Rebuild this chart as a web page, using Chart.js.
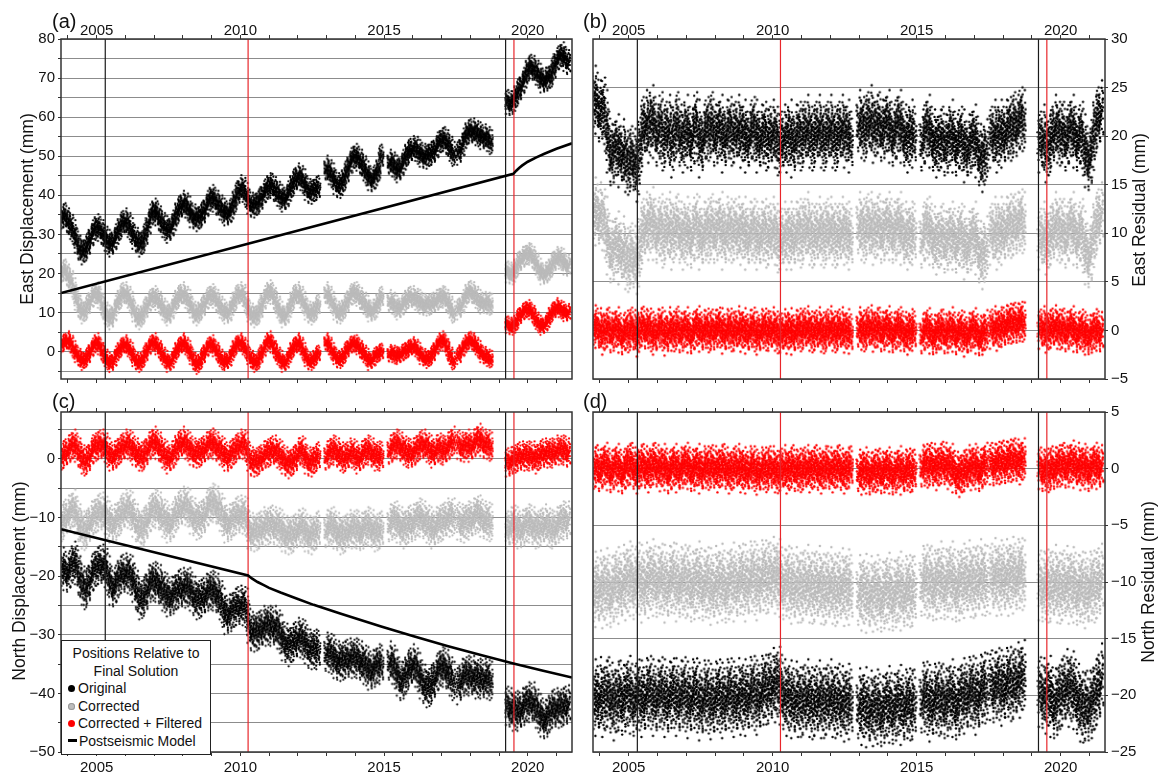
<!DOCTYPE html>
<html>
<head>
<meta charset="utf-8">
<script src="https://cdn.jsdelivr.net/npm/chart.js@4.4.1/dist/chart.umd.min.js"></script>
<style>
  body { margin: 0; background: #fff; font-family: "Liberation Sans", Arial, sans-serif; color: #111; }
  #wrap { position: relative; width: 1158px; height: 772px; overflow: hidden; }
  canvas { position: absolute; }
  .plab { position: absolute; font-size: 20px; line-height: 20px; }
  .atitle { position: absolute; font-size: 17.5px; white-space: nowrap; transform: translate(-50%, -50%) rotate(-90deg); }
  #legend { position: absolute; left: 61px; top: 640px; width: 148px; height: 109px; border: 1.5px solid #222; background: #fff; font-size: 14px; line-height: 17.6px; padding-top: 4px; box-sizing: content-box; }
  #legend .ttl { text-align: center; }
  #legend .it { padding-left: 6px; white-space: nowrap; }
  #legend .dot { display: inline-block; width: 7px; height: 7px; border-radius: 50%; margin-right: 3px; vertical-align: 1px; }
  #legend .bar { display: inline-block; width: 9px; height: 3px; background: #000; margin-right: 2px; vertical-align: 4px; }
</style>
</head>
<body>
<div id="wrap">
  <canvas id="pa" width="580" height="386" style="left:0;top:0"></canvas>
  <canvas id="pb" width="578" height="386" style="left:580px;top:0"></canvas>
  <canvas id="pc" width="580" height="386" style="left:0;top:386px"></canvas>
  <canvas id="pd" width="578" height="386" style="left:580px;top:386px"></canvas>

  <div class="plab" style="left:52px;top:11px">(a)</div>
  <div class="plab" style="left:583px;top:11px">(b)</div>
  <div class="plab" style="left:52px;top:391px">(c)</div>
  <div class="plab" style="left:583px;top:391px">(d)</div>

  <div class="atitle" style="left:27px;top:209px">East Displacement (mm)</div>
  <div class="atitle" style="left:19px;top:581px">North Displacement (mm)</div>
  <div class="atitle" style="left:1139px;top:210px">East Residual (mm)</div>
  <div class="atitle" style="left:1148px;top:582px">North Residual (mm)</div>

  <div id="legend">
    <div class="ttl">Positions Relative to</div>
    <div class="ttl">Final Solution</div>
    <div class="it"><span class="dot" style="background:#000"></span>Original</div>
    <div class="it"><span class="dot" style="background:#bdbdbd;box-shadow:0 0 0 1px #999 inset"></span>Corrected</div>
    <div class="it"><span class="dot" style="background:#f00"></span>Corrected + Filtered</div>
    <div class="it"><span class="bar"></span>Postseismic Model</div>
  </div>
</div>

<script>
// sampling of the position series: one value every 0.1 yr from 2003.8, null = no data
const t0 = 2003.8;
const dt = 0.1;

// (a) east displacement, mm
const eastOrig = [
  34.5, 35.0,
  33.5, 32.0, 30.5, 28.5, 26.5, 25.5, 26.0, 27.5, 29.5, 31.0,
  32.0, 31.5, 30.5, 29.0, 28.0, 27.5, 28.5, 30.0, 31.5, 33.0,
  33.5, 32.5, 31.0, 29.5, 28.5, 27.5, 28.0, 30.0, 32.5, 35.0,
  36.0, 35.5, 34.0, 32.5, 31.5, 31.0, 32.0, 33.5, 35.5, 37.0,
  38.0, 37.5, 36.5, 35.0, 34.5, 34.0, 34.5, 35.5, 37.0, 38.5,
  39.5, 39.0, 38.0, 37.0, 36.0, 35.5, 35.5, 36.5, 38.5, 40.5,
  42.0, 41.5, 40.0, 38.5, 37.5, 37.5, 38.0, 39.0, 40.5, 41.5,
  42.5, 42.5, 41.5, 40.5, 39.5, 39.0, 39.5, 41.0, 42.5, 44.0,
  45.0, 44.5, 43.5, 42.0, 41.0, 41.0, 41.5, 42.0, null, null,
  47.0, 46.0, 45.0, 43.5, 42.5, 42.5, 44.0, 46.0, 48.0, 49.5,
  50.0, 49.5, 48.5, 47.0, 45.5, 44.5, 44.0, 45.0, 46.5, 50.0,
  null, null, 48.5, 48.0, 47.0, 46.5, 47.5, 49.0, 50.5, 51.5,
  52.0, 52.0, 51.0, 50.5, 50.0, 50.0, 50.5, 51.0, 52.0, 53.5,
  54.0, 54.5, 53.5, 52.0, 50.5, null, 51.0, 52.5, 54.5, 56.0,
  56.5, 56.5, 56.0, 55.5, 55.0, 55.0, 54.5, 53.5, null, null,
  null, null, null, 64.0, 63.5, 64.0, 65.5, 67.0, 68.5, 70.0,
  72.0, 73.0, 72.5, 71.5, 70.5, 69.5, 69.5, 70.0, 70.5, 72.5,
  74.5, 75.5, 76.0, 75.0, 74.0
];
const eastCorr = [
  20.5, 21.0,
  19.5, 18.0, 16.0, 13.5, 11.5, 10.0, 10.5, 12.0, 13.5, 14.5,
  15.0, 14.0, 12.0, 10.0, 9.0, 8.5, 10.0, 12.0, 13.5, 15.0,
  15.0, 14.0, 12.5, 10.5, 9.0, 8.5, 9.5, 11.0, 12.5, 13.5,
  14.0, 13.5, 12.5, 11.0, 10.0, 9.5, 10.5, 12.0, 13.5, 14.5,
  15.0, 14.0, 13.0, 11.5, 10.0, 9.5, 10.5, 11.5, 13.0, 14.0,
  14.5, 14.0, 13.0, 11.5, 10.5, 10.0, 10.0, 11.5, 13.0, 14.5,
  15.0, 14.5, 12.5, 10.5, 9.5, 9.0, 9.5, 11.0, 13.0, 14.5,
  15.5, 15.0, 13.5, 11.5, 10.0, 9.0, 9.5, 11.0, 13.0, 14.5,
  15.0, 14.0, 12.5, 11.0, 10.0, 9.7, 10.5, 12.0, null, null,
  15.0, 14.0, 12.5, 11.0, 10.0, 10.0, 11.0, 12.5, 14.0, 15.0,
  15.0, 14.5, 13.5, 12.5, 11.5, 10.5, 10.5, 11.0, 12.5, 14.0,
  null, null, 13.0, 12.5, 11.5, 11.0, 11.5, 12.5, 13.5, 14.0,
  14.0, 13.5, 13.0, 12.5, 12.0, 12.0, 12.0, 12.5, 13.0, 13.5,
  14.0, 14.0, 13.0, 11.5, 10.0, null, 11.0, 12.0, 13.5, 15.0,
  15.5, 15.0, 14.0, 13.0, 12.5, 12.5, 12.5, 12.0, null, null,
  null, null, null, 20.5, 20.0, 20.0, 21.5, 23.0, 24.0, 24.5,
  25.0, 25.0, 24.0, 22.5, 21.0, 20.0, 20.0, 20.5, 21.5, 23.0,
  24.0, 24.0, 23.5, 22.5, 22.0
];
const eastFilt = [
  2.0, 2.5,
  3.0, 2.0, 0.5, -0.5, -1.5, -2.5, -2.0, -1.0, 0.5, 1.5,
  2.5, 1.5, 0.0, -1.5, -2.5, -3.0, -2.0, -0.5, 0.5, 1.5,
  2.0, 1.0, 0.0, -1.5, -2.5, -3.0, -2.0, -0.5, 1.0, 2.0,
  2.5, 1.5, 0.5, -1.0, -2.0, -3.0, -2.5, -1.0, 0.5, 1.5,
  2.5, 1.5, 0.5, -1.0, -2.5, -3.5, -2.5, -1.0, 0.5, 1.5,
  2.0, 1.0, 0.0, -1.5, -2.5, -2.5, -2.0, -0.5, 1.0, 2.0,
  2.5, 1.5, 0.5, -1.0, -2.0, -3.0, -2.5, -1.0, 0.5, 2.0,
  3.0, 2.0, 0.5, -1.0, -2.0, -3.0, -2.5, -1.0, 0.5, 1.5,
  2.5, 1.5, 0.0, -1.5, -2.5, -2.5, -1.5, -0.5, null, null,
  2.5, 1.5, 0.0, -1.0, -2.0, -2.0, -1.0, 0.5, 1.5, 2.0,
  2.0, 1.5, 0.5, -0.5, -1.5, -2.5, -2.0, -1.0, -0.5, 0.0,
  null, null, -0.5, -0.5, -1.0, -1.0, -0.5, 0.0, 0.5, 1.0,
  1.5, 1.0, 0.0, -1.0, -1.5, -2.0, -1.5, -0.5, 1.0, 2.0,
  3.0, 2.5, 1.0, -1.0, -2.5, null, -1.0, 0.5, 1.5, 2.5,
  3.0, 2.5, 1.5, 0.5, -0.5, -1.0, -1.5, -2.0, null, null,
  null, null, null, 7.0, 6.5, 6.5, 7.5, 9.0, 10.0, 10.5,
  11.0, 10.5, 9.5, 8.0, 7.0, 6.5, 7.0, 8.0, 9.5, 10.5,
  11.5, 11.0, 10.5, 10.0, 10.0
];
const eastModelT = [2003.76, 2019.50, 2019.60, 2019.70, 2019.80, 2020.00, 2020.30, 2020.60, 2021.00, 2021.54];
const eastModelV = [15.0, 45.5, 46.3, 47.0, 47.6, 48.6, 49.7, 50.7, 51.9, 53.3];

// (b) east residuals, mm (offset by +20 / +10 / 0)
const eastResOrig = [
  24.0, 23.5,
  22.5, 23.0, 21.5, 19.5, 18.0, 18.5, 19.0, 18.0, 18.5, 17.5,
  17.0, 18.0, 17.5, 16.5, 19.0, 21.0, 21.5, 20.5, 22.0, 21.0,
  20.0, 21.5, 19.5, 20.5, 21.0, 19.0, 20.5, 21.5, 20.0, 19.5,
  21.0, 20.0, 19.5, 21.5, 20.5, 19.0, 20.0, 21.0, 20.5, 21.5,
  20.0, 20.5, 21.0, 19.5, 20.5, 21.0, 20.0, 20.5, 21.0, 20.0,
  20.5, 19.5, 20.0, 21.0, 20.5, 19.5, 20.0, 20.5, 19.5, 20.0,
  20.5, 20.0, 19.0, 19.5, 20.0, 19.5, 20.5, 19.0, 20.0, 20.5,
  19.5, 20.5, 21.0, 20.0, 19.5, 20.5, 21.0, 20.0, 19.5, 20.5,
  21.0, 20.0, 19.5, 20.5, 21.0, 20.0, 20.5, 19.5, null, null,
  21.5, 21.0, 20.5, 21.5, 22.0, 20.5, 21.0, 21.5, 20.5, 21.0,
  21.5, 20.5, 20.0, 21.0, 21.5, 20.5, 20.0, 19.5, 20.5, 20.0,
  null, null, 19.5, 20.5, 21.0, 20.0, 19.5, 19.0, 19.5, 20.0,
  19.0, 19.5, 20.5, 19.5, 19.0, 20.0, 19.5, 18.5, 19.0, 19.5,
  20.0, 19.0, 18.0, 17.5, 18.5, null, 20.0, 20.5, 19.5, 20.5,
  20.0, 20.5, 21.0, 20.5, 21.5, 21.0, 22.0, 21.5, null, null,
  null, null, null, 19.5, 20.0, 18.5, 19.0, 20.0, 21.0, 20.5,
  20.0, 20.5, 19.5, 20.5, 21.0, 20.0, 19.5, 20.5, 19.0, 18.0,
  17.5, 19.0, 21.0, 22.0, 22.5
];
const eastResCorr = [
  12.5, 12.0,
  12.0, 11.5, 10.5, 9.0, 8.0, 8.5, 9.0, 8.0, 8.5, 7.5,
  7.0, 8.0, 7.5, 7.0, 9.0, 10.5, 11.0, 10.5, 11.5, 10.5,
  10.0, 11.0, 9.5, 10.5, 11.0, 9.5, 10.5, 11.0, 10.0, 9.5,
  10.5, 10.0, 9.5, 11.0, 10.5, 9.5, 10.0, 10.5, 10.0, 11.0,
  10.0, 10.5, 11.0, 9.5, 10.5, 10.5, 10.0, 10.5, 10.5, 10.0,
  10.5, 9.5, 10.0, 10.5, 10.0, 9.5, 10.0, 10.5, 9.5, 10.0,
  10.5, 10.0, 9.0, 9.5, 10.0, 9.5, 10.0, 9.5, 10.0, 10.5,
  9.5, 10.5, 11.0, 10.0, 9.5, 10.0, 10.5, 10.0, 9.5, 10.5,
  10.5, 10.0, 9.5, 10.0, 10.5, 10.0, 10.0, 9.5, null, null,
  11.0, 10.5, 10.0, 11.0, 11.0, 10.0, 10.5, 11.0, 10.0, 10.5,
  11.0, 10.5, 10.0, 10.5, 11.0, 10.0, 10.0, 9.5, 10.0, 10.0,
  null, null, 9.5, 10.5, 10.5, 10.0, 9.5, 9.0, 9.5, 10.0,
  9.0, 9.5, 10.0, 9.5, 9.0, 10.0, 9.5, 8.5, 9.0, 9.5,
  10.0, 9.0, 8.0, 7.5, 8.5, null, 10.0, 10.5, 9.5, 10.5,
  10.0, 10.5, 11.0, 10.5, 11.0, 11.0, 11.5, 11.0, null, null,
  null, null, null, 9.5, 10.0, 9.0, 9.5, 10.0, 11.0, 10.5,
  10.0, 10.5, 9.5, 10.5, 11.0, 10.0, 9.5, 10.5, 9.0, 8.0,
  7.5, 9.0, 10.5, 11.5, 12.0
];
const eastResFilt = [
  0.5, 0.3,
  0.2, -0.4, 0.1, 0.4, -0.3, 0.0, 0.3, -0.2, -0.5, 0.1,
  -0.3, 0.4, 0.0, -0.6, 0.2, 0.5, 0.1, 0.3, -0.2, -0.4,
  0.1, 0.4, -0.1, -0.5, 0.3, 0.0, -0.2, 0.5, -0.3, 0.0,
  0.3, -0.2, -0.4, 0.2, 0.4, -0.1, 0.0, 0.3, -0.3, 0.2,
  0.0, 0.4, 0.2, -0.3, 0.1, 0.3, -0.2, 0.0, 0.4, -0.1,
  0.2, -0.3, 0.0, 0.4, -0.2, -0.4, 0.1, 0.3, -0.1, 0.0,
  0.3, 0.0, -0.4, -0.2, 0.1, -0.3, 0.2, -0.4, 0.0, 0.3,
  -0.2, 0.3, 0.4, 0.0, -0.3, 0.1, 0.3, -0.1, -0.4, 0.2,
  0.4, 0.0, -0.3, 0.2, 0.3, -0.2, 0.1, -0.3, null, null,
  0.3, 0.1, -0.2, 0.4, 0.5, -0.1, 0.2, 0.4, -0.2, 0.1,
  0.4, -0.1, -0.3, 0.2, 0.3, 0.0, -0.2, -0.4, 0.1, 0.0,
  null, null, -0.4, 0.1, 0.2, -0.3, -0.5, -0.2, 0.0, 0.2,
  -0.4, -0.2, 0.3, -0.1, -0.5, 0.1, -0.2, -0.6, -0.3, 0.0,
  0.2, -0.3, -0.6, -0.4, 0.0, null, 0.2, 0.4, 0.0, 0.3,
  0.4, 0.5, 0.8, 0.6, 0.9, 0.7, 1.0, 0.8, null, null,
  null, null, null, 0.2, 0.4, -0.2, 0.0, 0.3, 0.5, 0.2,
  0.0, 0.3, -0.2, 0.2, 0.4, -0.1, -0.3, 0.2, -0.2, -0.4,
  -0.5, -0.2, 0.1, 0.0, -0.2
];

// (c) north displacement, mm
const northFilt = [
  0.5, 1.0,
  1.5, 2.0, 2.5, 2.0, 1.0, 0.0, -0.5, 0.0, 1.0, 2.0,
  2.0, 2.5, 2.5, 2.0, 1.0, 0.5, 0.5, 1.0, 1.5, 2.0,
  2.5, 2.5, 2.0, 1.5, 1.0, 0.5, 0.3, 1.0, 2.0, 2.5,
  3.0, 2.5, 2.0, 1.0, 0.5, 0.0, 0.5, 1.0, 2.0, 2.5,
  3.0, 2.5, 2.0, 1.5, 1.0, 1.0, 1.0, 1.5, 2.0, 2.5,
  2.7, 2.5, 2.0, 1.5, 1.0, 0.5, 0.3, 1.0, 1.5, 2.0,
  2.5, 2.5, 2.0, 0.5, -0.5, -0.5, -0.5, 0.0, 0.5, 1.0,
  1.0, 1.5, 1.5, 1.0, 0.5, 0.0, -0.5, -0.8, -0.5, 0.0,
  1.0, 1.5, 1.0, 0.0, -0.5, -0.5, 0.0, 0.5, null, null,
  0.5, 1.0, 1.5, 1.5, 1.0, 0.5, 0.0, 0.5, 1.0, 1.0,
  0.5, 0.0, 0.5, 1.0, 1.5, 1.5, 1.0, 0.5, 0.5, 0.5,
  null, null, 1.5, 2.0, 2.5, 2.5, 2.0, 1.5, 1.0, 1.0,
  1.0, 1.5, 2.0, 2.5, 2.5, 2.0, 1.5, 1.0, 1.5, 2.0,
  1.5, 1.5, 2.0, 2.5, 3.0, null, 2.5, 2.0, 2.0, 2.5,
  2.0, 2.5, 3.0, 3.5, 3.0, 2.5, 2.5, 2.0, null, null,
  null, null, null, -0.5, -0.5, 0.0, 0.0, 0.5, 0.5, 0.5,
  0.5, 0.5, 0.5, 0.0, 0.5, 1.0, 1.0, 1.0, 1.0, 1.0,
  1.5, 1.5, 1.5, 1.5, 1.0
];
const northCorr = [
  -11.0, -10.0,
  -9.5, -9.0, -8.5, -9.5, -11.0, -12.0, -12.5, -11.5, -10.5, -10.0,
  -9.5, -9.0, -9.0, -9.5, -10.5, -11.0, -11.0, -10.5, -10.0, -9.0,
  -8.5, -8.5, -9.0, -10.0, -11.0, -12.0, -12.0, -11.0, -10.0, -9.0,
  -8.5, -8.5, -9.0, -10.0, -10.5, -11.0, -11.0, -10.0, -9.0, -8.5,
  -8.0, -8.0, -8.5, -9.5, -10.0, -10.5, -10.5, -10.0, -9.0, -8.0,
  -7.5, -7.5, -8.0, -9.0, -10.0, -11.0, -11.0, -10.5, -10.0, -9.5,
  -9.5, -9.5, -10.0, -12.0, -12.5, -12.5, -12.5, -12.0, -11.5, -11.5,
  -11.5, -11.0, -11.5, -11.5, -12.0, -12.5, -13.0, -13.0, -13.0, -12.5,
  -12.0, -11.5, -12.0, -12.5, -13.0, -13.0, -12.5, -12.0, null, null,
  -12.0, -11.5, -11.5, -12.0, -12.5, -13.0, -13.0, -12.5, -12.0, -12.0,
  -12.0, -12.0, -12.5, -12.0, -11.5, -11.5, -12.0, -12.5, -12.5, -12.0,
  null, null, -11.0, -10.5, -10.5, -11.0, -11.5, -12.0, -11.5, -11.0,
  -11.0, -10.5, -10.0, -10.0, -10.5, -11.0, -11.5, -12.0, -11.5, -11.0,
  -11.0, -10.5, -10.0, -10.0, -10.0, null, -10.5, -11.0, -11.0, -10.5,
  -10.5, -10.0, -9.5, -9.5, -10.0, -10.5, -10.5, -11.0, null, null,
  null, null, null, -12.0, -11.5, -11.0, -11.5, -12.0, -12.0, -11.5,
  -11.0, -11.0, -11.5, -12.0, -12.0, -11.5, -11.0, -11.5, -12.0, -12.0,
  -11.5, -11.0, -10.5, -10.5, -10.5
];
const northOrig = [
  -18.5, -19.0,
  -19.5, -18.5, -17.5, -18.0, -20.0, -21.5, -22.5, -21.5, -20.0, -19.0,
  -18.5, -18.0, -18.0, -18.5, -20.0, -21.5, -22.0, -21.0, -20.0, -19.5,
  -19.5, -19.5, -20.0, -21.0, -22.5, -24.0, -24.0, -23.0, -21.5, -21.0,
  -21.0, -21.0, -21.5, -22.5, -23.0, -23.5, -23.5, -23.0, -22.5, -22.0,
  -22.0, -22.0, -22.0, -22.5, -23.5, -24.0, -24.0, -23.5, -23.0, -22.5,
  -22.5, -22.5, -23.0, -24.0, -25.5, -26.5, -26.5, -26.0, -25.5, -25.0,
  -25.0, -25.0, -25.5, -28.0, -29.5, -29.5, -29.5, -29.0, -28.5, -28.5,
  -28.5, -28.5, -28.5, -29.0, -30.0, -31.0, -31.5, -32.0, -31.5, -31.0,
  -30.5, -30.5, -31.0, -31.5, -32.5, -32.5, -32.5, -32.5, null, null,
  -33.0, -33.0, -33.5, -34.0, -34.5, -34.5, -34.5, -34.0, -34.0, -34.0,
  -34.0, -34.0, -34.5, -35.0, -35.5, -36.0, -36.0, -35.5, -35.0, -35.0,
  null, null, -34.5, -35.0, -36.0, -37.0, -38.0, -37.5, -36.5, -35.5,
  -35.0, -35.5, -36.5, -37.5, -38.5, -39.0, -39.0, -38.0, -37.0, -36.0,
  -35.5, -35.5, -36.0, -37.0, -38.0, null, -38.5, -37.5, -37.0, -37.0,
  -37.0, -37.0, -37.5, -37.5, -37.5, -37.5, -37.5, -38.0, null, null,
  null, null, null, -42.0, -42.5, -43.0, -43.0, -43.0, -42.5, -42.0,
  -41.5, -41.5, -41.5, -42.5, -43.5, -44.0, -44.5, -44.0, -43.0, -42.5,
  -42.5, -42.5, -42.5, -42.0, -42.0
];
const northModelT = [2003.76, 2010.27, 2010.40, 2010.60, 2010.80, 2011.00, 2011.40, 2012.00, 2012.55, 2013.50, 2014.90, 2016.00, 2017.20, 2018.40, 2019.50, 2020.50, 2021.54];
const northModelV = [-12.0, -19.9, -20.4, -21.0, -21.5, -22.0, -22.8, -23.9, -24.9, -26.4, -28.6, -30.2, -31.9, -33.5, -34.9, -36.1, -37.3];

// (d) north residuals, mm (offset by 0 / -10 / -20)
const northResFilt = [
  0.0, 0.3,
  -0.2, 0.2, 0.4, 0.0, -0.3, 0.1, 0.3, -0.1, -0.4, 0.2,
  0.3, 0.5, 0.0, -0.3, 0.2, 0.4, 0.1, -0.2, 0.3, 0.5,
  0.2, -0.1, 0.3, 0.0, -0.4, 0.1, 0.3, -0.2, 0.0, 0.2,
  0.4, 0.1, -0.2, 0.0, 0.3, -0.3, 0.1, 0.2, -0.1, 0.3,
  0.1, -0.2, 0.2, 0.4, 0.0, -0.3, -0.1, 0.2, 0.3, -0.2,
  0.0, -0.3, 0.1, 0.2, -0.2, -0.4, 0.0, 0.1, -0.3, 0.2,
  0.1, -0.2, -0.4, 0.0, 0.2, -0.3, -0.1, 0.3, -0.2, 0.0,
  -0.3, 0.1, 0.2, -0.2, 0.0, 0.3, -0.1, -0.3, 0.1, 0.2,
  0.0, -0.2, 0.1, 0.3, -0.1, -0.3, 0.0, 0.2, null, null,
  -0.2, -0.4, 0.0, -0.3, -0.5, -0.1, -0.3, 0.0, -0.4, -0.2,
  0.0, -0.3, -0.5, -0.2, 0.1, -0.4, -0.2, 0.0, -0.3, -0.1,
  null, null, 0.2, 0.4, 0.1, 0.5, 0.3, 0.0, 0.3, 0.6,
  0.4, 0.1, 0.3, -0.2, -0.4, -0.6, -0.3, -0.1, 0.2, 0.0,
  0.3, 0.1, -0.2, 0.2, 0.4, null, 0.5, 0.3, 0.6, 0.4,
  0.7, 0.5, 0.8, 0.6, 0.9, 0.7, 0.5, 0.8, null, null,
  null, null, null, 0.1, -0.2, 0.0, -0.3, 0.2, 0.0, 0.3,
  0.2, 0.5, 0.1, 0.3, 0.6, 0.2, 0.4, 0.0, 0.3, 0.1,
  -0.2, 0.2, 0.4, 0.1, 0.2
];
const northResCorr = [
  -10.5, -10.8,
  -10.4, -10.9, -10.2, -10.6, -11.0, -10.3, -10.1, -10.5, -9.9, -10.2,
  -9.6, -9.8, -10.3, -9.5, -9.9, -10.4, -9.7, -10.0, -9.4, -9.8,
  -10.1, -9.6, -9.9, -10.4, -10.0, -9.5, -9.8, -10.3, -10.1, -9.7,
  -10.2, -9.8, -10.5, -10.1, -9.6, -10.0, -10.4, -9.9, -10.2, -10.6,
  -10.0, -10.4, -9.8, -10.2, -10.6, -10.1, -9.7, -10.3, -10.0, -9.6,
  -9.9, -10.3, -9.6, -9.4, -9.9, -10.2, -9.5, -9.3, -9.8, -9.5,
  -9.2, -9.6, -9.4, -9.9, -10.3, -9.8, -10.2, -10.5, -10.1, -10.4,
  -10.6, -10.2, -9.9, -10.4, -10.7, -10.3, -10.0, -10.5, -10.8, -10.4,
  -10.1, -10.5, -10.9, -10.4, -10.2, -10.7, -10.3, -10.6, null, null,
  -10.8, -11.1, -10.7, -11.3, -10.9, -11.2, -10.8, -11.0, -11.4, -10.9,
  -10.6, -11.0, -11.3, -10.8, -10.5, -11.1, -10.9, -10.6, -11.0, -10.7,
  null, null, -10.0, -9.7, -10.2, -9.8, -10.4, -10.1, -9.6, -10.0,
  -10.3, -9.9, -9.6, -10.1, -10.5, -10.2, -9.8, -10.0, -9.5, -9.9,
  -10.2, -9.8, -9.4, -9.7, -10.0, null, -9.6, -9.3, -9.8, -9.5,
  -9.7, -9.4, -9.8, -9.2, -9.6, -9.4, -9.1, -9.5, null, null,
  null, null, null, -10.2, -10.5, -10.1, -10.6, -10.3, -9.9, -10.4,
  -10.7, -10.2, -10.0, -10.5, -10.1, -10.4, -10.8, -10.3, -10.6, -10.9,
  -10.5, -10.2, -10.6, -10.0, -9.8
];
const northResOrig = [
  -20.0, -20.4,
  -19.8, -20.5, -20.1, -19.6, -20.3, -20.8, -20.2, -19.9, -20.5, -20.0,
  -19.7, -20.2, -20.6, -19.8, -20.1, -20.5, -19.9, -19.5, -20.0, -20.4,
  -20.1, -19.6, -20.0, -20.5, -20.2, -19.7, -19.9, -20.4, -20.1, -19.6,
  -20.2, -20.6, -20.0, -19.7, -20.3, -20.8, -20.1, -19.9, -20.4, -20.7,
  -20.2, -19.8, -20.3, -20.6, -20.0, -19.7, -20.2, -20.5, -19.9, -20.3,
  -20.0, -20.4, -19.8, -19.5, -20.1, -20.3, -19.7, -19.4, -19.6, -19.3,
  -19.0, -19.2, -18.9, -19.4, -20.0, -20.4, -20.1, -20.6, -20.2, -20.5,
  -20.7, -20.3, -20.0, -20.5, -20.9, -20.4, -20.1, -20.6, -20.8, -20.3,
  -20.0, -20.5, -20.8, -20.2, -20.6, -20.9, -20.4, -20.7, null, null,
  -20.8, -21.2, -20.7, -21.4, -21.0, -21.3, -20.9, -21.1, -21.5, -21.0,
  -20.6, -21.0, -21.3, -20.8, -20.5, -21.2, -20.9, -20.6, -21.0, -20.7,
  null, null, -20.3, -20.0, -20.5, -20.9, -20.4, -20.1, -20.6, -20.2,
  -20.8, -20.4, -20.0, -20.5, -20.9, -20.3, -19.9, -20.2, -19.8, -19.5,
  -19.9, -20.3, -19.6, -19.2, -19.5, null, -19.0, -19.4, -18.8, -19.2,
  -19.5, -19.0, -18.7, -19.3, -18.9, -18.5, -18.8, -18.3, null, null,
  null, null, null, -19.6, -19.9, -20.2, -19.7, -20.5, -20.8, -20.3,
  -20.0, -19.5, -19.1, -19.6, -19.3, -19.8, -20.4, -20.9, -21.2, -20.8,
  -21.0, -20.6, -20.0, -19.4, -18.6
];

// earthquakes and axes
const quakeYears = [2005.30, 2010.27, 2019.23, 2019.52];
const quakeColors = ['#1a1a1a', '#e8262b', '#1a1a1a', '#e8262b'];
const yearTicks = [2004, 2005, 2006, 2007, 2008, 2009, 2010, 2011, 2012, 2013, 2014, 2015, 2016, 2017, 2018, 2019, 2020, 2021];
const yearLabels = [2005, 2010, 2015, 2020];
const xMin = 2003.76, xMax = 2021.54;
const eastDispTicks = [-5, 0, 5, 10, 15, 20, 25, 30, 35, 40, 45, 50, 55, 60, 65, 70, 75, 80];
const northDispTicks = [-50, -45, -40, -35, -30, -25, -20, -15, -10, -5, 0, 5];
const eastResTicks = [-5, 0, 5, 10, 15, 20, 25, 30];
const northResTicks = [-25, -20, -15, -10, -5, 0, 5];

const FONT = { family: '"Liberation Sans", Arial, sans-serif', size: 15 };
const fmt = v => (v < 0 ? '\u2212' + Math.abs(v) : String(v));

// marker shape: a short speckled strip standing for the daily solutions around each sample
// (x offset, y offset in units of the spread)
const speckle = [
  [-0.9, 0.05], [0.3, -0.42], [-0.2, 0.88], [0.7, -1.35], [-0.6, 0.31], [0.1, -0.15],
  [0.9, 0.62], [-0.4, -0.77], [0.5, 1.21], [-0.8, -0.28], [0.2, 0.47], [-0.1, -1.02],
  [0.6, 0.12], [-0.5, 1.6], [0.8, -0.58], [-0.3, -0.05], [0.4, 0.95], [-0.7, -1.72],
  [0.0, 0.22], [0.9, -0.88], [-0.9, 0.71], [0.3, -0.33], [-0.2, 2.1], [0.6, -2.25],
  [-0.6, -0.45], [0.1, 0.58], [0.7, 1.45], [-0.4, -1.18], [0.5, -0.12], [-0.8, 0.4],
  [0.2, -0.68], [-0.1, 1.05], [0.8, 0.28], [-0.5, -0.95], [0.4, 1.85], [-0.7, -1.5]
];

function makeStamps(color, spreadPx, dotR) {
  const w = 8, h = Math.ceil(2 * 2.4 * spreadPx + 2 * dotR + 4);
  const variants = [[1, 1, 0], [-1, -1, 0], [1, 1, 7], [-1, -1, 13]];
  return variants.map(([sx, sy, k]) => {
    const c = document.createElement('canvas');
    c.width = w; c.height = h;
    const g = c.getContext('2d');
    g.fillStyle = color;
    speckle.forEach((p, i) => {
      const px = w / 2 + sx * p[0] * 2.7;
      const py = h / 2 + sy * speckle[(i + k) % speckle.length][1] * spreadPx;
      g.beginPath();
      g.arc(px, py, dotR, 0, Math.PI * 2);
      g.fill();
    });
    return c;
  });
}

function pts(vals) {
  const out = [];
  vals.forEach((v, i) => {
    if (v !== null) out.push({ x: Math.round((t0 + i * dt) * 100) / 100, y: v });
  });
  return out;
}

function cloud(vals, color, spreadPx, dotR, order) {
  const stamps = makeStamps(color, spreadPx, dotR);
  return {
    type: 'scatter', data: pts(vals), order,
    pointStyle: c => stamps[c.dataIndex % stamps.length],
    pointRadius: 3, pointBorderWidth: 0,
    pointBackgroundColor: color, pointBorderColor: color
  };
}

function quakeLines(lo, hi) {
  return quakeYears.map((q, i) => ({
    type: 'line', order: 1, data: [{ x: q, y: lo }, { x: q, y: hi }],
    borderColor: quakeColors[i], borderWidth: 1.2, pointRadius: 0
  }));
}

function modelLine(ts, vs) {
  return {
    type: 'line', order: 0, data: ts.map((t, i) => ({ x: t, y: vs[i] })),
    borderColor: '#000', borderWidth: 2.6, pointRadius: 0, tension: 0
  };
}

const framePlugin = {
  id: 'frame',
  afterDraw(chart) {
    const { ctx, chartArea: a } = chart;
    ctx.save();
    ctx.strokeStyle = '#333';
    ctx.lineWidth = 1.5;
    ctx.strokeRect(a.left, a.top, a.right - a.left, a.bottom - a.top);
    ctx.restore();
  }
};

function noPad(s) {
  s.paddingLeft = 0; s.paddingRight = 0; s.paddingTop = 0; s.paddingBottom = 0;
}

function xScale(position, labels, height) {
  return {
    type: 'linear', position, min: xMin, max: xMax,
    afterBuildTicks: s => { s.ticks = yearTicks.map(v => ({ value: v })); },
    afterFit: s => { s.height = height; noPad(s); },
    border: { display: false },
    grid: { drawOnChartArea: false, drawTicks: true, tickLength: 4, tickColor: '#333' },
    ticks: {
      display: labels, autoSkip: false, maxRotation: 0, color: '#111', font: FONT,
      padding: position === 'top' ? -5 : 3,
      callback: v => (yearLabels.includes(v) ? String(v) : '')
    }
  };
}

function yScale(position, min, max, tickVals, every, width) {
  return {
    type: 'linear', position, min, max,
    afterBuildTicks: s => { s.ticks = tickVals.map(v => ({ value: v })); },
    afterFit: s => { s.width = width; noPad(s); },
    border: { display: false },
    grid: { color: '#8c8c8c', lineWidth: 1, drawTicks: true, tickLength: 3, tickColor: '#333' },
    ticks: {
      autoSkip: false, padding: 3, color: '#111', font: FONT,
      callback: v => (v % every === 0 ? fmt(v) : '')
    }
  };
}

function panel(id, datasets, scales, padding) {
  new Chart(document.getElementById(id), {
    type: 'scatter',
    data: { datasets },
    options: {
      responsive: false, animation: false, events: [],
      layout: { padding },
      plugins: { legend: { display: false }, tooltip: { enabled: false } },
      scales
    },
    plugins: [framePlugin]
  });
}

// (a)
panel('pa', [
  modelLine(eastModelT, eastModelV),
  ...quakeLines(-7, 80),
  cloud(eastOrig, '#000', 5.5, 1.1, 2),
  cloud(eastCorr, '#bababa', 4.8, 1.1, 3),
  cloud(eastFilt, '#ff0000', 3.8, 1.1, 4)
], {
  x: xScale('bottom', false, 7),
  xTop: xScale('top', true, 39),
  y: yScale('left', -7, 80, eastDispTicks, 10, 61)
}, { left: 0, right: 8, top: 0, bottom: 0 });

// (b)
panel('pb', [
  ...quakeLines(-5, 30),
  cloud(eastResOrig, '#000', 14, 1.2, 2),
  cloud(eastResCorr, '#bababa', 14, 1.2, 3),
  cloud(eastResFilt, '#ff0000', 9, 1.2, 4)
], {
  x: xScale('bottom', false, 7),
  xTop: xScale('top', true, 39),
  y: yScale('right', -5, 30, eastResTicks, 5, 53)
}, { left: 13, right: 0, top: 0, bottom: 0 });

// (c)
panel('pc', [
  modelLine(northModelT, northModelV),
  ...quakeLines(-50, 8),
  cloud(northFilt, '#ff0000', 6.5, 1.1, 2),
  cloud(northCorr, '#bababa', 8.5, 1.1, 3),
  cloud(northOrig, '#000', 8.8, 1.1, 4)
], {
  x: xScale('bottom', true, 20),
  xTop: xScale('top', false, 26),
  y: yScale('left', -50, 8, northDispTicks, 10, 61)
}, { left: 0, right: 8, top: 0, bottom: 0 });

// (d)
panel('pd', [
  ...quakeLines(-25, 5),
  cloud(northResFilt, '#ff0000', 9.5, 1.2, 2),
  cloud(northResCorr, '#bababa', 16, 1.2, 3),
  cloud(northResOrig, '#000', 16, 1.2, 4)
], {
  x: xScale('bottom', true, 20),
  xTop: xScale('top', false, 26),
  y: yScale('right', -25, 5, northResTicks, 5, 53)
}, { left: 13, right: 0, top: 0, bottom: 0 });
</script>
</body>
</html>
